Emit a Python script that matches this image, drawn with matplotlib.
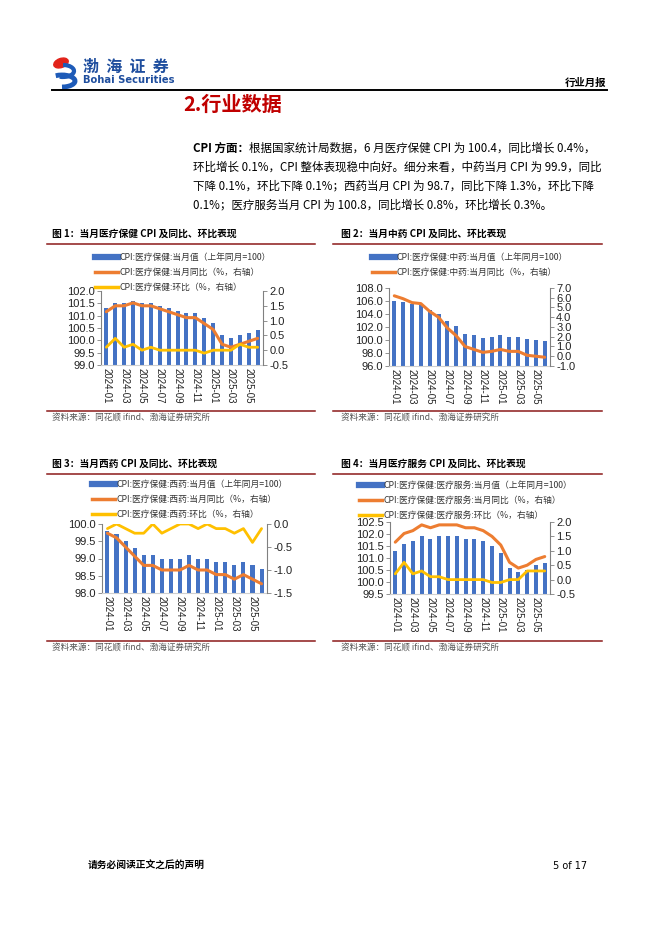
import numpy as np
import matplotlib.pyplot as plt
from matplotlib.lines import Line2D
from matplotlib.patches import Ellipse, Arc

plt.rcParams['font.family'] = ['Noto Sans CJK SC', 'DejaVu Sans']
plt.rcParams['axes.unicode_minus'] = False

# DATA
months = ['2024-01', '2024-02', '2024-03', '2024-04', '2024-05', '2024-06',
          '2024-07', '2024-08', '2024-09', '2024-10', '2024-11', '2024-12',
          '2025-01', '2025-02', '2025-03', '2025-04', '2025-05', '2025-06']

health_cpi = [101.3, 101.5, 101.5, 101.6, 101.5, 101.5, 101.4, 101.3, 101.2,
              101.1, 101.1, 100.9, 100.7, 100.2, 100.1, 100.2, 100.3, 100.4]
health_yoy = [1.3, 1.5, 1.5, 1.6, 1.5, 1.5, 1.4, 1.3, 1.2,
              1.1, 1.1, 0.9, 0.7, 0.2, 0.1, 0.2, 0.3, 0.4]
health_mom = [0.1, 0.4, 0.1, 0.2, 0.0, 0.1, 0.0, 0.0, 0.0,
              0.0, 0.0, -0.1, 0.0, 0.0, 0.0, 0.2, 0.1, 0.1]

tcm_cpi = [106.0, 105.8, 105.5, 105.4, 104.6, 104.0, 102.9, 102.1, 100.9,
           100.7, 100.3, 100.5, 100.7, 100.5, 100.5, 100.1, 100.0, 99.9]
tcm_yoy = [6.2, 5.9, 5.5, 5.4, 4.6, 4.0, 2.9, 2.1, 1.0,
           0.7, 0.4, 0.5, 0.7, 0.5, 0.5, 0.1, 0.0, -0.1]

wm_cpi = [99.8, 99.7, 99.5, 99.3, 99.1, 99.1, 99.0, 99.0, 99.0,
          99.1, 99.0, 99.0, 98.9, 98.9, 98.8, 98.9, 98.8, 98.7]
wm_yoy = [-0.2, -0.3, -0.5, -0.7, -0.9, -0.9, -1.0, -1.0, -1.0,
          -0.9, -1.0, -1.0, -1.1, -1.1, -1.2, -1.1, -1.2, -1.3]
wm_mom = [-0.1, 0.0, -0.1, -0.2, -0.2, 0.0, -0.2, -0.1, 0.0,
          0.0, -0.1, 0.0, -0.1, -0.1, -0.2, -0.1, -0.4, -0.1]

svc_cpi = [101.3, 101.6, 101.7, 101.9, 101.8, 101.9, 101.9, 101.9, 101.8,
           101.8, 101.7, 101.5, 101.2, 100.6, 100.4, 100.5, 100.7, 100.8]
svc_yoy = [1.3, 1.6, 1.7, 1.9, 1.8, 1.9, 1.9, 1.9, 1.8,
           1.8, 1.7, 1.5, 1.2, 0.6, 0.4, 0.5, 0.7, 0.8]
svc_mom = [0.2, 0.6, 0.2, 0.3, 0.1, 0.1, 0.0, 0.0, 0.0,
           0.0, 0.0, -0.1, -0.1, 0.0, 0.0, 0.3, 0.3, 0.3]

BLUE = '#4472C4'
ORANGE = '#ED7D31'
YELLOW = '#FFC000'
MAROON = '#8B1A1A'
NUMFONT = 'Liberation Sans'

W, H = 662, 936
fig = plt.figure(figsize=(W / 100, H / 100), dpi=100)
bg = fig.add_axes([0, 0, 1, 1])
bg.set_xlim(0, W)
bg.set_ylim(H, 0)
bg.axis('off')

# header / logo
bg.add_patch(Ellipse((61, 63), 15, 9, angle=-20, color='#E2231A'))
bg.add_patch(Arc((63, 71), 22, 12, theta1=-90, theta2=120, color='#1E5BB8', lw=3))
bg.add_patch(Arc((62, 81), 26, 12, theta1=-140, theta2=90, color='#1E5BB8', lw=3.5))
bg.text(83, 67, '渤  海  证  券', fontsize=11.5, fontweight='bold', color='#1F4E9E', va='center')
bg.text(83, 80, 'Bohai Securities', fontsize=7.2, fontweight='bold', color='#1F4E9E',
        va='center', family='DejaVu Sans')
bg.text(606, 83, '行业月报', fontsize=7.5, fontweight='bold', ha='right', va='center')
bg.plot([52, 607], [89.5, 89.5], color='black', lw=1.4)

bg.text(183, 104, '2.行业数据', fontsize=14.5, fontweight='bold', color='#C00000', va='center')

# paragraph
t0 = bg.text(193, 148, 'CPI 方面：', fontsize=8.3, fontweight='bold', va='center')
bg.annotate('根据国家统计局数据，6 月医疗保健 CPI 为 100.4，同比增长 0.4%，',
            xy=(1, 0.5), xycoords=t0, va='center', fontsize=8.3)
para = ['环比增长 0.1%，CPI 整体表现稳中向好。细分来看，中药当月 CPI 为 99.9，同比',
        '下降 0.1%，环比下降 0.1%；西药当月 CPI 为 98.7，同比下降 1.3%，环比下降',
        '0.1%；医疗服务当月 CPI 为 100.8，同比增长 0.8%，环比增长 0.3%。']
for i, line in enumerate(para):
    bg.text(193, 167 + 19 * i, line, fontsize=8.3, va='center')


def chart(box, title, title_xy, line_x, src_y, cpi, yoy, mom, lims, rlims,
          lstep, rstep, labels, leg_xy):
    l, t, r, b = box
    tx, ty = title_xy
    bg.text(tx, ty, title, fontsize=7, fontweight='bold', va='center')
    bg.plot(line_x, [ty + 9.5, ty + 9.5], color=MAROON, lw=1.1)
    bg.plot(line_x, [src_y, src_y], color=MAROON, lw=1.1)
    bg.text(tx, src_y + 7, '资料来源：同花顺 ifind、渤海证券研究所', fontsize=6.2,
            style='italic', color='#555555', va='center')

    ax = fig.add_axes([l / W, 1 - b / H, (r - l) / W, (b - t) / H])
    x = np.arange(len(months))
    ax.bar(x, cpi, width=0.45, color=BLUE, zorder=2)
    ax.set_ylim(*lims)
    ax.set_yticks(np.arange(lims[0], lims[1] + lstep / 2, lstep))
    ax.yaxis.set_major_formatter('{x:.1f}')
    ax.set_xlim(-0.6, len(months) - 0.4)
    ax.set_xticks(x[::2])
    ax.set_xticklabels(months[::2], rotation=-90, fontsize=7, family=NUMFONT)

    ax2 = ax.twinx()
    handles = [Line2D([], [], color=BLUE, lw=4.5)]
    ax2.plot(x, yoy, color=ORANGE, lw=2.2, solid_capstyle='round')
    handles.append(Line2D([], [], color=ORANGE, lw=2.5))
    if mom is not None:
        ax2.plot(x, mom, color=YELLOW, lw=2.0, solid_capstyle='round')
        handles.append(Line2D([], [], color=YELLOW, lw=2.5))
    ax2.set_ylim(*rlims)
    ax2.set_yticks(np.arange(rlims[0], rlims[1] + rstep / 2, rstep))
    ax2.yaxis.set_major_formatter('{x:.1f}')

    for a in (ax, ax2):
        a.spines['top'].set_visible(False)
        a.tick_params(axis='y', length=3, width=0.6, color='#808080',
                      labelsize=8, pad=1.5, labelcolor='#222222')
        for lab in a.get_yticklabels():
            lab.set_family(NUMFONT)
    ax.spines['right'].set_visible(False)
    ax.spines['left'].set_color('#808080')
    ax.spines['bottom'].set_color('#D0D0D0')
    ax.tick_params(axis='x', length=0, pad=2.5, labelcolor='#222222')
    ax2.spines['left'].set_visible(False)
    ax2.spines['bottom'].set_visible(False)
    ax2.spines['right'].set_color('#808080')

    lx, ly = leg_xy
    ax2.legend(handles, labels, loc='upper left', bbox_to_anchor=(lx / W, 1 - ly / H),
               bbox_transform=fig.transFigure, frameon=False, fontsize=6.3,
               handlelength=2.6, handletextpad=0.15, labelspacing=0.68,
               borderpad=0, borderaxespad=0, labelcolor='#333333')


chart((101, 291, 263, 365), '图 1：当月医疗保健 CPI 及同比、环比表现', (52, 234), [47, 315], 411,
      health_cpi, health_yoy, health_mom, (99, 102), (-0.5, 2.0), 0.5, 0.5,
      ['CPI:医疗保健:当月值（上年同月=100）', 'CPI:医疗保健:当月同比（%，右轴）',
       'CPI:医疗保健:环比（%，右轴）'], (95, 253))

chart((389, 288, 550, 366), '图 2：当月中药 CPI 及同比、环比表现', (341, 234), [333, 602], 411,
      tcm_cpi, tcm_yoy, None, (96, 108), (-1.0, 7.0), 2.0, 1.0,
      ['CPI:医疗保健:中药:当月值（上年同月=100）', 'CPI:医疗保健:中药:当月同比（%，右轴）'],
      (372, 253))

chart((102, 524, 267, 593), '图 3：当月西药 CPI 及同比、环比表现', (52, 464), [47, 315], 641,
      wm_cpi, wm_yoy, wm_mom, (98, 100), (-1.5, 0.0), 0.5, 0.5,
      ['CPI:医疗保健:西药:当月值（上年同月=100）', 'CPI:医疗保健:西药:当月同比（%，右轴）',
       'CPI:医疗保健:西药:环比（%，右轴）'], (92, 480))

chart((390, 522, 550, 594), '图 4：当月医疗服务 CPI 及同比、环比表现', (341, 464), [333, 602], 641,
      svc_cpi, svc_yoy, svc_mom, (99.5, 102.5), (-0.5, 2.0), 0.5, 0.5,
      ['CPI:医疗保健:医疗服务:当月值（上年同月=100）', 'CPI:医疗保健:医疗服务:当月同比（%，右轴）',
       'CPI:医疗保健:医疗服务:环比（%，右轴）'], (359, 481))

# footer
bg.text(88, 866, '请务必阅读正文之后的声明', fontsize=7, fontweight='bold', va='center')
bg.text(553, 866, '5 of 17', fontsize=7, va='center', family='DejaVu Sans')

fig.savefig('out.png', dpi=100)
